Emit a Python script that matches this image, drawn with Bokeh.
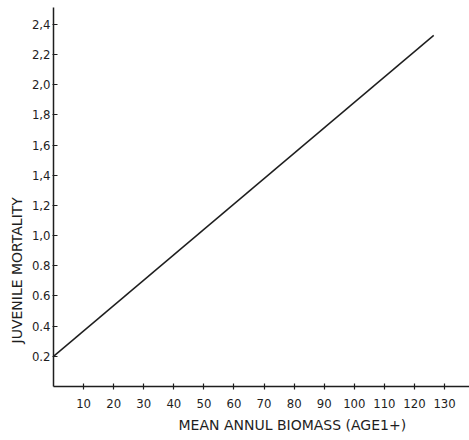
from bokeh.plotting import figure
from bokeh.models import FixedTicker, Range1d, Title
from bokeh.embed import file_html
from bokeh.resources import INLINE

# data
biomass = [0, 126.4]
mortality = [0.2, 2.327]

x_ticks = [10, 20, 30, 40, 50, 60, 70, 80, 90, 100, 110, 120, 130]
y_ticks = [0.2, 0.4, 0.6, 0.8, 1.0, 1.2, 1.4, 1.6, 1.8, 2.0, 2.2, 2.4]
y_tick_labels = ["0.2", "0.4", "0.6", "0.8", "1,0", "1,2", "1,4", "1,6", "1,8", "2,0", "2,2", "2,4"]
x_title = "MEAN ANNUL BIOMASS (AGE1+)"
y_title = "JUVENILE MORTALITY"

FONT = "DejaVu Sans Condensed"
TITLE_FONT = "DejaVu Sans"
INK = "#1e1e1e"

W, H = 469, 440
LEFT, TOP, BOTTOM = 53, 7, 54
frame_w = W - LEFT
frame_h = H - TOP - BOTTOM
px_per_x = 3.008
px_per_y = 150.9

p = figure(width=W, height=H, output_backend="svg", toolbar_location=None,
           x_range=Range1d(0, frame_w / px_per_x), y_range=Range1d(0, frame_h / px_per_y),
           min_border_left=LEFT, min_border_right=0, min_border_top=TOP, min_border_bottom=BOTTOM)
p.outline_line_color = None
p.grid.visible = False
p.background_fill_color = "white"

p.line(biomass, mortality, line_color=INK, line_width=1.5)

for ax in (p.xaxis[0], p.yaxis[0]):
    ax.axis_line_color = INK
    ax.axis_line_width = 1.5
    ax.major_tick_line_color = INK
    ax.major_tick_line_width = 1.2
    ax.minor_tick_line_color = None
    ax.major_label_text_font = FONT
    ax.major_label_text_font_size = "13px"
    ax.major_label_text_color = INK

p.xaxis.ticker = FixedTicker(ticks=x_ticks)
p.yaxis.ticker = FixedTicker(ticks=y_ticks)
p.yaxis.major_label_overrides = {t: l for t, l in zip(y_ticks, y_tick_labels)}
p.xaxis.major_tick_in = 3
p.xaxis.major_tick_out = 3
p.xaxis.major_label_standoff = 9
p.yaxis.major_tick_in = 4
p.yaxis.major_tick_out = 1
p.yaxis.major_label_standoff = 2

p.add_layout(Title(text=x_title, align="left", offset=125, text_font=TITLE_FONT,
                   text_font_size="14px", text_font_style="normal", text_color=INK,
                   standoff=8), "below")
p.add_layout(Title(text=y_title, align="left", offset=43, text_font=TITLE_FONT,
                   text_font_size="14px", text_font_style="normal", text_color=INK,
                   standoff=7), "left")

open("out.html", "w").write(file_html(p, INLINE))
